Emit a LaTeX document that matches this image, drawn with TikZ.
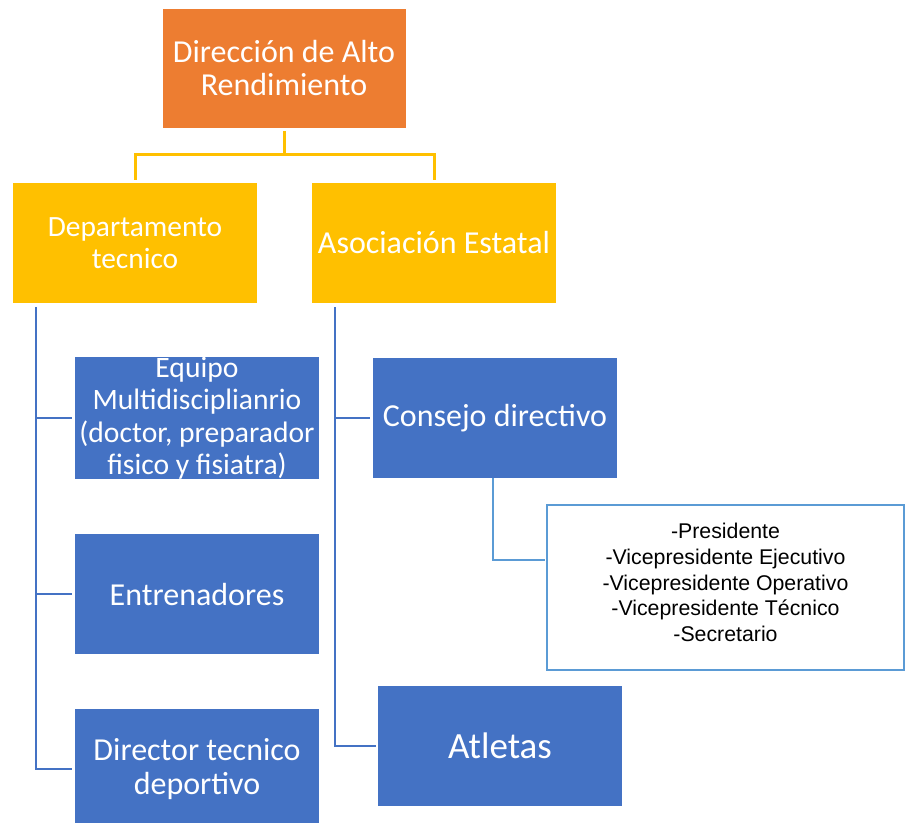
\documentclass[tikz,border=0pt]{standalone}
\usepackage{fontspec}
\setmainfont{Carlito}
\newfontfamily\arialfont{Liberation Sans}
\definecolor{orangebox}{HTML}{ED7D31}
\definecolor{goldbox}{HTML}{FFC000}
\definecolor{bluebox}{HTML}{4472C4}
\definecolor{lightline}{HTML}{5B9BD5}
\tikzset{
  unitbox/.style={rectangle, inner sep=0pt, minimum width=244pt, minimum height=120pt,
    align=center, text=white, draw=white, line width=0.6pt},
  topbox/.style={unitbox, fill=orangebox, font=\fontsize{32}{33}\selectfont},
  goldunit/.style={unitbox, fill=goldbox, draw=none},
  blueunit/.style={unitbox, fill=bluebox, draw=none},
  listbox/.style={rectangle, inner sep=0pt, minimum width=357pt, minimum height=165pt,
    align=center, text=black, fill=white, draw=lightline, line width=2.6pt,
    font=\arialfont\fontsize{21.3}{25.8}\selectfont},
  goldlink/.style={draw=goldbox, line width=3pt},
  bluelink/.style={draw=bluebox, line width=2.8pt},
  thinlink/.style={draw=lightline, line width=1.5pt}
}
\begin{document}
\begin{tikzpicture}[x=1pt,y=-1pt]
\useasboundingbox (0,0) rectangle (905,822);

% head of the organisation
\node[topbox] (dar) at (284,68) {Dirección de Alto\\Rendimiento};

% second level
\node[goldunit, font=\fontsize{29.4}{32}\selectfont] (dep) at (135,243) {Departamento\\tecnico};
\node[goldunit, font=\fontsize{32}{33}\selectfont] (aso) at (434,243) {Asociación Estatal};

% technical department branch
\node[blueunit, font=\fontsize{29.6}{32.5}\selectfont] (equ) at (197,418)
  {Equipo\\Multidisciplianrio\\(doctor, preparador\\fisico y fisiatra)};
\node[blueunit, font=\fontsize{32}{33}\selectfont] (ent) at (197,594) {Entrenadores};
\node[blueunit, font=\fontsize{32}{34}\selectfont] (dtd) at (197,769) {Director tecnico\\deportivo};

% state association branch
\node[blueunit, font=\fontsize{32}{33}\selectfont] (con) at (495,418) {Consejo directivo};
\node[blueunit, font=\fontsize{37}{38}\selectfont] (atl) at (500,746) {Atletas};

% board members
\node[listbox] (lst) at (725.5,587.5) {};
\node[align=center, inner sep=0pt, font=\arialfont\fontsize{21.3}{25.8}\selectfont]
  (mem) at ([yshift=5pt]lst.center)
  {-Presidente\\-Vicepresidente Ejecutivo\\-Vicepresidente Operativo\\-Vicepresidente Técnico\\-Secretario};

% connectors from the head
\coordinate (hub) at (284,154);
\draw[goldlink] ([yshift=-3pt]dar.south) -- (hub);
\draw[goldlink] ([yshift=3pt]dep.north) |- (hub) -| ([yshift=3pt]aso.north);

% technical department trunk
\coordinate (trL) at (36,307);
\draw[bluelink] (trL) |- ([xshift=-3pt]dtd.west);
\draw[bluelink] (equ.west -| trL) -- ([xshift=-3pt]equ.west);
\draw[bluelink] (ent.west -| trL) -- ([xshift=-3pt]ent.west);

% state association trunk
\coordinate (trR) at (335,307);
\draw[bluelink] (trR) |- ([xshift=-2pt]atl.west);
\draw[bluelink] (con.west -| trR) -- ([xshift=-3pt]con.west);

% council to its members
\coordinate (cdrop) at (493,478);
\draw[thinlink] (cdrop) |- ([xshift=-1pt]lst.west |- 0,560);
\end{tikzpicture}
\end{document}
